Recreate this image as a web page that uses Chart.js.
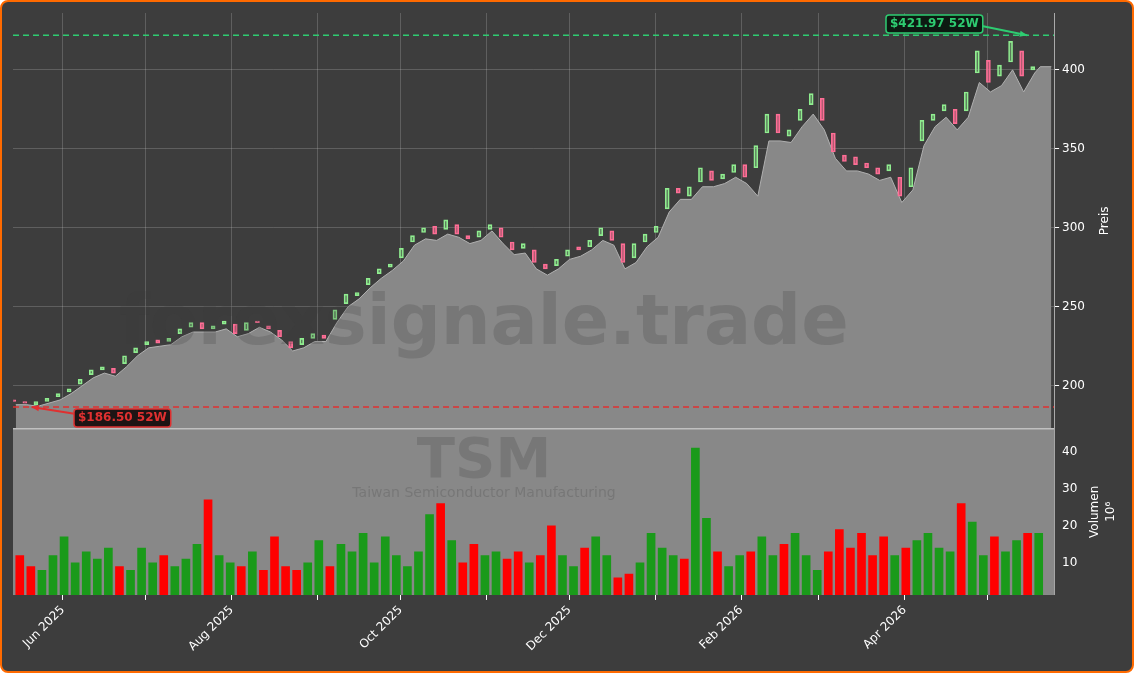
<!DOCTYPE html>
<html><head><meta charset="utf-8">
<script src="https://cdn.jsdelivr.net/npm/chart.js@4.4.1/dist/chart.umd.min.js"></script>
<style>
html,body{margin:0;padding:0;background:#fff;}
#wrap{width:1130px;height:669px;border:2px solid #ff6a00;border-radius:8px;background:#3d3d3d;overflow:hidden;}
</style></head><body>
<div id="wrap"><canvas id="c" width="1130" height="669"></canvas></div>
<script>
// day index from 2025-05-15, one candle every 4 days
const candleDays = [0,4,8,12,16,20,24,28,32,36,40,44,48,52,56,60,64,68,72,76,80,84,88,92,96,100,104,108,112,116,120,124,128,132,136,140,144,148,152,156,160,164,168,172,176,180,184,188,192,196,200,204,208,212,216,220,224,228,232,236,240,244,248,252,256,260,264,268,272,276,280,284,288,292,296,300,304,308,312,316,320,324,328,332,336,340,344,348,352,356,360,364,368];
const closes = [190,189,190,192,195,198,204,210,212,208,219,224,228,227,230,236,240,236,238,241,233,240,240,236,231,224,230,233,230,248,258,259,268,274,277,287,295,300,296,305,296,293,298,302,294,286,290,278,274,280,286,286,292,300,292,278,290,296,301,325,322,326,338,330,334,340,332,352,372,360,362,375,385,368,348,342,340,338,334,340,320,338,368,372,378,366,386,412,392,403,418,396,402];
const opens  = [191,190,188,190,193,196,201,207,210,211,214,221,226,229,228,233,237,240,236,239,239,235,241,238,235,228,226,230,232,242,252,257,264,271,275,281,291,297,301,299,302,295,294,299,300,291,287,286,277,276,282,288,288,295,298,290,281,291,297,312,325,320,329,336,331,335,340,338,360,372,358,368,378,382,360,346,345,341,338,336,332,326,355,368,374,375,374,398,406,396,405,412,400];
const lows   = [188,188,187,189,191,195,200,205,208,206,212,219,224,225,226,231,234,234,234,236,231,233,237,234,229,222,224,228,228,240,250,255,262,268,273,279,289,293,292,296,294,290,292,298,290,283,284,274,270,274,280,282,286,292,289,274,278,288,294,310,318,318,326,326,328,332,328,320,355,355,354,364,372,362,344,336,336,334,330,332,316,324,352,364,370,362,370,392,386,390,400,386,398];
const volumes = [12,9,8,12,17,10,13,11,14,9,8,14,10,12,9,11,15,27,12,10,9,13,8,17,9,8,10,16,9,15,13,18,10,17,12,9,13,23,26,16,10,15,12,13,11,13,10,12,20,12,9,14,17,12,6,7,10,18,14,12,11,41,22,13,9,12,13,17,12,15,18,12,8,13,19,14,18,12,17,12,14,16,18,14,13,26,21,12,17,13,16,18,18];
const monthDays = [17,47,78,109,139,170,200,231,262,290,321,351];
const monthNames = ["Jun 2025","","Aug 2025","","Oct 2025","","Dec 2025","","Feb 2026","","Apr 2026",""];
const high52 = 421.97, low52 = 186.50, highDay = 366, lowDay = 5;
const lastDay = 374;

const up = closes.map((c,i)=>c>=opens[i]);
const areaPts = candleDays.map((d,i)=>({x:d,y:lows[i]})).concat([{x:370,y:402},{x:lastDay,y:402}]);

const bgPlugin = {
  id:'bg',
  beforeDatasetsDraw(ch){
    const {ctx,chartArea:a,scales} = ch;
    const v = scales.y1;
    ctx.save();
    ctx.fillStyle='#888888';
    ctx.fillRect(a.left,v.top,a.right-a.left,v.bottom-v.top);
    ctx.restore();
  },
  afterDatasetsDraw(ch){
    const {ctx,chartArea:a,scales} = ch;
    const x = scales.x, y = scales.y, v = scales.y1;
    ctx.save();
    ctx.strokeStyle='#c0c0c0';ctx.lineWidth=1.5;
    ctx.beginPath();ctx.moveTo(a.left,v.top);ctx.lineTo(a.right,v.top);ctx.stroke();
    ctx.textAlign='center';ctx.textBaseline='middle';
    ctx.fillStyle='rgba(60,60,60,0.22)';
    ctx.font='bold 70px "DejaVu Sans"';
    ctx.fillText('forexsignale.trade',482,y.getPixelForValue(238));
    ctx.font='bold 56px "DejaVu Sans"';
    ctx.fillText('TSM',482,460);
    ctx.font='14px "DejaVu Sans"';
    ctx.fillText('Taiwan Semiconductor Manufacturing',482,491);
    // rotated axis titles
    ctx.fillStyle='#ffffff';ctx.font='12px "DejaVu Sans"';
    ctx.translate(1103,(y.top+y.bottom)/2);ctx.rotate(-Math.PI/2);ctx.fillText('Preis',0,0);
    ctx.setTransform(1,0,0,1,0,0);
    ctx.translate(1093,(v.top+v.bottom)/2);ctx.rotate(-Math.PI/2);ctx.fillText('Volumen',0,0);
    ctx.fillText('10⁶',0,16);
    ctx.setTransform(1,0,0,1,0,0);
    const box=(txt,bx,by,col,bg)=>{
      ctx.font='bold 12px "DejaVu Sans"';
      const w=ctx.measureText(txt).width+8;
      ctx.fillStyle=bg;ctx.strokeStyle=col;ctx.lineWidth=1.5;
      ctx.beginPath();ctx.roundRect(bx,by-9,w,18,3);ctx.fill();ctx.stroke();
      ctx.fillStyle=col;ctx.textBaseline='middle';ctx.textAlign='left';
      ctx.fillText(txt,bx+4,by);
    };
    const arrow=(x1,y1,x2,y2,col)=>{
      ctx.strokeStyle=col;ctx.fillStyle=col;ctx.lineWidth=2;
      ctx.beginPath();ctx.moveTo(x1,y1);ctx.lineTo(x2,y2);ctx.stroke();
      const an=Math.atan2(y2-y1,x2-x1);
      ctx.beginPath();ctx.moveTo(x2,y2);
      ctx.lineTo(x2-8*Math.cos(an-0.4),y2-8*Math.sin(an-0.4));
      ctx.lineTo(x2-8*Math.cos(an+0.4),y2-8*Math.sin(an+0.4));ctx.fill();
    };
    const hx=x.getPixelForValue(highDay),hy=y.getPixelForValue(high52);
    arrow(980,24,hx-2,hy,'#2ecc71');
    box('$421.97 52W',884,22,'#2ecc71','#0d1a12');
    const lx=x.getPixelForValue(lowDay),ly=y.getPixelForValue(low52);
    arrow(74,412,lx+2,ly,'#e03030');
    box('$186.50 52W',72,416,'#e03030','#1e1414');
    ctx.restore();
  }
};

new Chart(document.getElementById('c'),{
  data:{
    datasets:[
      {type:'line',data:areaPts,xAxisID:'x',yAxisID:'y',borderColor:'#b0b0b0',borderWidth:1,backgroundColor:'#888888',fill:'start',pointRadius:0,tension:0,order:5},
      {type:'bar',data:candleDays.map((d,i)=>({x:d,y:[opens[i],closes[i]]})),xAxisID:'x',yAxisID:'y',barThickness:4,
        backgroundColor:up.map(u=>u?'rgba(144,238,144,0.35)':'rgba(255,110,150,0.6)'),
        borderColor:up.map(u=>u?'#90ee90':'#ff6e96'),borderWidth:1,borderSkipped:false,order:2},
      {type:'line',data:[{x:-1,y:high52},{x:lastDay+1,y:high52}],yAxisID:'y',borderColor:'#2ecc71',borderWidth:1.5,borderDash:[6,4],pointRadius:0,order:1},
      {type:'line',data:[{x:-1,y:low52},{x:lastDay+1,y:low52}],yAxisID:'y',borderColor:'#e03030',borderWidth:1.5,borderDash:[6,4],pointRadius:0,order:1},
      {type:'bar',data:candleDays.map((d,i)=>({x:d,y:volumes[i]})),xAxisID:'x',yAxisID:'y1',barThickness:8,
        backgroundColor:up.map(u=>u?'#1a9a1a':'#ff0000'),order:3}
    ]
  },
  options:{
    responsive:false,animation:false,
    layout:{padding:{left:11,top:11,right:44,bottom:14}},
    plugins:{legend:{display:false},tooltip:{enabled:false}},
    scales:{
      x:{type:'linear',min:-1,max:lastDay+1,offset:false,
        afterBuildTicks(s){s.ticks=monthDays.map(v=>({value:v}));},
        ticks:{color:'#ffffff',font:{size:12,family:'DejaVu Sans'},maxRotation:45,minRotation:45,autoSkip:false,
          callback:(v,i)=>monthNames[i]},
        grid:{offset:false,color:'rgba(200,200,200,0.25)',tickColor:'#ffffff',tickLength:5},
        border:{color:'#aaaaaa'}},
      y:{position:'right',stack:'p',stackWeight:2.5,min:172.8,max:436,
        afterBuildTicks(s){s.ticks=[200,250,300,350,400].map(v=>({value:v}));},
        ticks:{color:'#ffffff',font:{size:12,family:'DejaVu Sans'}},
        grid:{color:'rgba(200,200,200,0.25)',tickColor:'#ffffff',tickLength:5},
        border:{color:'#aaaaaa'}},
      y1:{position:'right',stack:'p',stackWeight:1,offset:false,min:1.35,max:46.2,
        afterBuildTicks(s){s.ticks=[10,20,30,40].map(v=>({value:v}));},
        ticks:{color:'#ffffff',font:{size:12,family:'DejaVu Sans'}},
        grid:{display:false,tickColor:'#ffffff',tickLength:5},
        border:{color:'#aaaaaa'}}
    }
  },
  plugins:[bgPlugin]
});
</script>
</body></html>
